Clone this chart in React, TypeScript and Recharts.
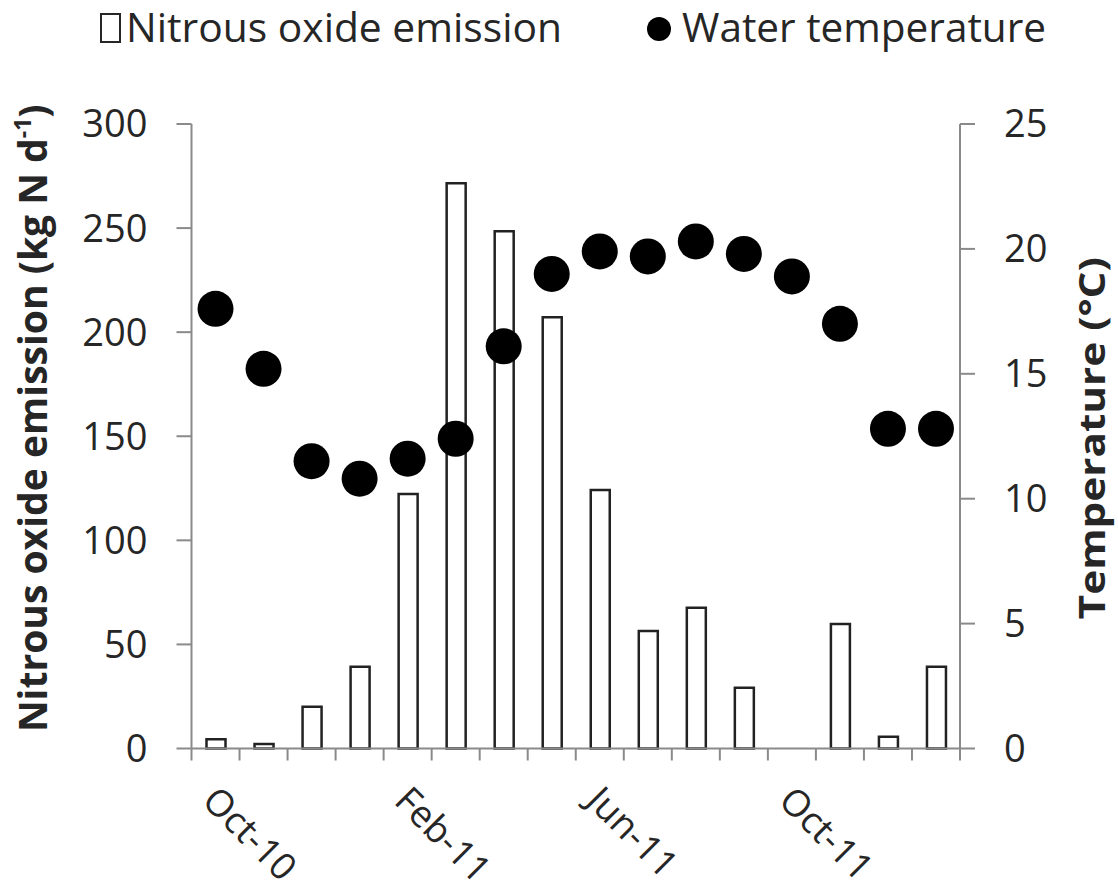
import React from 'react';
import { ComposedChart, Bar, Line, XAxis, YAxis } from 'recharts';

const months = ['Oct-10', 'Nov-10', 'Dec-10', 'Jan-11', 'Feb-11', 'Mar-11', 'Apr-11', 'May-11', 'Jun-11', 'Jul-11', 'Aug-11', 'Sep-11', 'Oct-11', 'Nov-11', 'Dec-11', 'Jan-12'];
const n2oEmission = [4.4, 2.2, 20.1, 39.3, 122.3, 271.5, 248.5, 207.2, 124.2, 56.4, 67.6, 29.2, 0, 59.8, 5.7, 39.3];
const waterTemperature = [17.6, 15.2, 11.5, 10.8, 11.6, 12.4, 16.1, 19.0, 19.9, 19.7, 20.3, 19.8, 18.9, 17.0, 12.8, 12.8];
const labeledMonths = ['Oct-10', 'Feb-11', 'Jun-11', 'Oct-11'];
const leftTicks = [0, 50, 100, 150, 200, 250, 300];
const rightTicks = [0, 5, 10, 15, 20, 25];

const data = months.map((m, i) => ({ month: m, n2o: n2oEmission[i], temp: waterTemperature[i] }));

const W = 1118;
const H = 892;
const FONT = '"Open Sans", "DejaVu Sans", sans-serif';
const TEXT = '#262626';
const AXIS = '#8a8a8a';
const LEFT_W = 191.5;
const RIGHT_W = 158;
const TOP = 124;
const XAXIS_H = 130;
const BOTTOM = H - 748.5 - XAXIS_H;
const BAND = (W - LEFT_W - RIGHT_W) / months.length;

const XTick = (props: any) => {
  const { x, y, payload, index } = props;
  const half = payload && payload.offset ? payload.offset : BAND / 2;
  const bx = x - half;
  const isLast = index === months.length - 1;
  const show = labeledMonths.includes(payload.value);
  const lx = x - 15;
  const ly = y + 54;
  return (
    <g>
      <line x1={bx} x2={bx} y1={y} y2={y + 12} stroke={AXIS} strokeWidth={2} />
      {isLast && <line x1={x + half} x2={x + half} y1={y} y2={y + 12} stroke={AXIS} strokeWidth={2} />}
      {show && (
        <text x={lx} y={ly} transform={`rotate(45 ${lx} ${ly})`} fontSize={37} fill={TEXT} fontFamily={FONT} textAnchor="start">
          {payload.value}
        </text>
      )}
    </g>
  );
};

const LeftTitle = (props: any) => {
  const vb = props.viewBox || { x: 0, y: TOP, width: LEFT_W, height: 624.5 };
  const x = vb.x + 47;
  const y = vb.y + vb.height / 2 - 18;
  return (
    <text x={x} y={y} transform={`rotate(-90 ${x} ${y})`} textAnchor="middle" fontSize={39} fontWeight={700} fill={TEXT} fontFamily={FONT}>
      Nitrous oxide emission (kg N d<tspan fontSize={23} dy={-16}>-1</tspan>
      <tspan dy={16}>)</tspan>
    </text>
  );
};

const RightTitle = (props: any) => {
  const vb = props.viewBox || { x: W - RIGHT_W, y: TOP, width: RIGHT_W, height: 624.5 };
  const x = vb.x + 145;
  const y = vb.y + vb.height / 2 + 2;
  return (
    <text x={x} y={y} transform={`rotate(-90 ${x} ${y})`} textAnchor="middle" fontSize={36} fontWeight={700} fill={TEXT} fontFamily={FONT} textLength={362} lengthAdjust="spacingAndGlyphs">
      Temperature (°C)
    </text>
  );
};

const LegendOverlay = () => (
  <svg width={W} height={70} style={{ position: 'absolute', left: 0, top: 0 }}>
    <rect x={101} y={14} width={19} height={28} fill="#fff" stroke={TEXT} strokeWidth={2} />
    <text x={126} y={42} fontSize={40} fill={TEXT} fontFamily={FONT} textLength={436} lengthAdjust="spacingAndGlyphs">
      Nitrous oxide emission
    </text>
    <circle cx={659} cy={29} r={12} fill="#000" />
    <text x={682} y={42} fontSize={40} fill={TEXT} fontFamily={FONT} textLength={364} lengthAdjust="spacingAndGlyphs">
      Water temperature
    </text>
  </svg>
);

export default function App() {
  return (
    <div style={{ position: 'absolute', left: 0, top: 0, width: W, height: H, background: '#fff' }}>
      <ComposedChart width={W} height={H} data={data} margin={{ top: TOP, right: 0, bottom: BOTTOM, left: 0 }}>
        <XAxis
          dataKey="month"
          interval={0}
          height={XAXIS_H}
          tickSize={0}
          tickMargin={0}
          tickLine={false}
          axisLine={{ stroke: AXIS, strokeWidth: 2 }}
          tick={<XTick />}
        />
        <YAxis
          yAxisId="left"
          orientation="left"
          width={LEFT_W}
          domain={[0, 300]}
          ticks={leftTicks}
          interval={0}
          tickSize={15}
          tickMargin={29}
          axisLine={{ stroke: AXIS, strokeWidth: 2 }}
          tickLine={{ stroke: AXIS, strokeWidth: 2 }}
          tick={{ fontSize: 38, fill: TEXT, fontFamily: FONT }}
          label={LeftTitle}
        />
        <YAxis
          yAxisId="right"
          orientation="right"
          width={RIGHT_W}
          domain={[0, 25]}
          ticks={rightTicks}
          interval={0}
          tickSize={15}
          tickMargin={29}
          axisLine={{ stroke: AXIS, strokeWidth: 2 }}
          tickLine={{ stroke: AXIS, strokeWidth: 2 }}
          tick={{ fontSize: 38, fill: TEXT, fontFamily: FONT }}
          label={RightTitle}
        />
        <Bar yAxisId="left" dataKey="n2o" barSize={19} fill="#ffffff" stroke="#222" strokeWidth={2.5} isAnimationActive={false} />
        <Line
          yAxisId="right"
          dataKey="temp"
          stroke="none"
          dot={{ r: 18, fill: '#000', stroke: 'none' }}
          activeDot={false}
          isAnimationActive={false}
        />
      </ComposedChart>
      <LegendOverlay />
    </div>
  );
}
